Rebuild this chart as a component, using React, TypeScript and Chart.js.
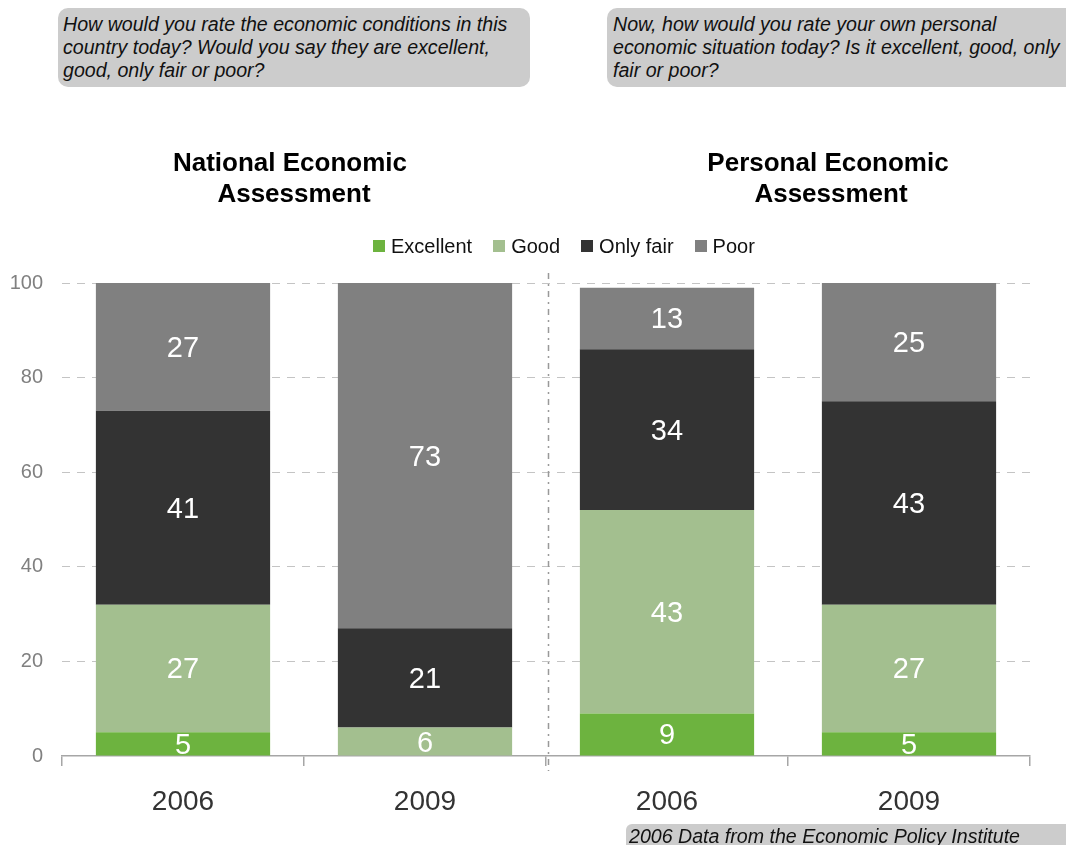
import React, { useEffect, useRef } from "react";
import { Chart, registerables } from "chart.js";

Chart.register(...registerables);

// ---- Data ----
const categories = ["2006", "2009", "2006", "2009"];
const excellent = [5, 0, 9, 5];
const good = [27, 6, 43, 27];
const onlyFair = [41, 21, 34, 43];
const poor = [27, 73, 13, 25];
const seriesNames = ["Excellent", "Good", "Only fair", "Poor"];
const seriesColors = ["#6DB33F", "#A3BF8F", "#333333", "#808080"];
const yTicks = [0, 20, 40, 60, 80, 100];
const groupTitles = [
  ["National Economic", "Assessment"],
  ["Personal Economic", "Assessment"],
];
const questionLines = [
  [
    "How would you rate the economic conditions in this",
    "country today? Would you say they are excellent,",
    "good, only fair or poor?",
  ],
  [
    "Now, how would you rate your own personal",
    "economic situation today? Is it excellent, good, only",
    "fair or poor?",
  ],
];
const footnote = "2006 Data from the Economic Policy Institute";

const FONT = '"Liberation Sans", Arial, Helvetica, sans-serif';

const segmentLabels = {
  id: "segmentLabels",
  afterDatasetsDraw(chart: any) {
    const ctx = chart.ctx;
    ctx.save();
    ctx.font = `29px ${FONT}`;
    ctx.fillStyle = "#ffffff";
    ctx.textAlign = "center";
    ctx.textBaseline = "middle";
    chart.data.datasets.forEach((ds: any, i: number) => {
      const meta = chart.getDatasetMeta(i);
      meta.data.forEach((el: any, j: number) => {
        const v = ds.data[j];
        if (!v) return;
        const p = el.getProps(["x", "y", "base"], true);
        ctx.fillText(String(v), p.x, (p.y + p.base) / 2 + 2);
      });
    });
    ctx.restore();
  },
};

const separator = {
  id: "separator",
  afterDatasetsDraw(chart: any) {
    const xs = chart.scales.x;
    const area = chart.chartArea;
    const x = Math.round((xs.getPixelForValue(1) + xs.getPixelForValue(2)) / 2) + 2.5;
    const ctx = chart.ctx;
    ctx.save();
    ctx.strokeStyle = "#999999";
    ctx.lineWidth = 1.5;
    ctx.setLineDash([6, 5, 2, 5]);
    ctx.beginPath();
    ctx.moveTo(x, area.top - 10);
    ctx.lineTo(x, area.bottom + 15);
    ctx.stroke();
    ctx.restore();
  },
};

export default function App() {
  const canvasRef = useRef<HTMLCanvasElement>(null);

  useEffect(() => {
    if (!canvasRef.current) return;
    const seriesValues = [excellent, good, onlyFair, poor];
    const chart = new Chart(canvasRef.current, {
      type: "bar",
      data: {
        labels: categories,
        datasets: seriesNames.map((name, i) => ({
          label: name,
          data: seriesValues[i],
          backgroundColor: seriesColors[i],
          borderWidth: 0,
          barPercentage: 0.72,
          categoryPercentage: 1,
        })),
      },
      options: {
        animation: false,
        responsive: false,
        maintainAspectRatio: false,
        layout: { padding: { top: 283, left: 0, right: 36, bottom: 0 } },
        plugins: {
          legend: { display: false },
          tooltip: { enabled: false },
          title: { display: false },
        },
        scales: {
          x: {
            stacked: true,
            grid: {
              offset: true,
              drawOnChartArea: false,
              drawTicks: true,
              tickLength: 10,
              color: "#a6a6a6",
              lineWidth: 1.5,
            },
            border: { display: true, color: "#a6a6a6", width: 1.5 },
            ticks: {
              color: "#333333",
              font: { size: 28, family: FONT },
              padding: 19,
            },
            afterFit: (s: any) => {
              s.height = 89;
            },
          },
          y: {
            stacked: true,
            min: 0,
            max: 100,
            afterBuildTicks: (s: any) => {
              s.ticks = yTicks.map((v) => ({ value: v }));
            },
            grid: {
              color: (c: any) => (c.tick && c.tick.value === 0 ? "rgba(0,0,0,0)" : "#c4c4c4"),
              drawTicks: false,
              lineWidth: 1,
            },
            border: { display: false, dash: [8, 7] },
            ticks: {
              color: "#808080",
              font: { size: 20, family: FONT },
              padding: 19,
            },
            afterFit: (s: any) => {
              s.width = 62;
            },
          },
        },
      },
      plugins: [segmentLabels, separator],
    });
    return () => chart.destroy();
  }, []);

  const boxText: React.CSSProperties = {
    position: "absolute",
    background: "#cccccc",
    fontFamily: FONT,
    fontStyle: "italic",
    fontSize: 19.6,
    lineHeight: "23px",
    color: "#111111",
    whiteSpace: "nowrap",
    boxSizing: "border-box",
  };

  const titleStyle: React.CSSProperties = {
    position: "absolute",
    width: 400,
    textAlign: "center",
    fontFamily: FONT,
    fontWeight: "bold",
    fontSize: 26,
    lineHeight: "31px",
    color: "#000000",
    whiteSpace: "nowrap",
  };

  return (
    <div
      style={{
        position: "absolute",
        left: 0,
        top: 0,
        width: 1066,
        height: 845,
        overflow: "hidden",
        background: "#ffffff",
      }}
    >
      <canvas
        ref={canvasRef}
        width={1066}
        height={845}
        style={{ position: "absolute", left: 0, top: 0, width: 1066, height: 845 }}
      />
      <div
        style={{
          ...boxText,
          left: 58,
          top: 8,
          width: 472,
          height: 79,
          borderRadius: 10,
          padding: "5px 0 0 5px",
        }}
      >
        {questionLines[0].map((l, i) => (
          <div key={i}>{l}</div>
        ))}
      </div>
      <div
        style={{
          ...boxText,
          left: 607,
          top: 8,
          width: 480,
          height: 79,
          borderRadius: 10,
          padding: "5px 0 0 6px",
        }}
      >
        {questionLines[1].map((l, i) => (
          <div key={i}>{l}</div>
        ))}
      </div>
      <div style={{ ...titleStyle, left: 290 - 200, top: 147 }}>
        {groupTitles[0].map((l, i) => (
          <div key={i} style={{ position: "relative", left: i === 1 ? 4 : 0 }}>
            {l}
          </div>
        ))}
      </div>
      <div style={{ ...titleStyle, left: 828 - 200, top: 147 }}>
        {groupTitles[1].map((l, i) => (
          <div key={i} style={{ position: "relative", left: i === 1 ? 3 : 0 }}>
            {l}
          </div>
        ))}
      </div>
      <div
        style={{
          position: "absolute",
          left: 373,
          top: 234,
          height: 24,
          display: "flex",
          alignItems: "center",
          fontFamily: FONT,
          fontSize: 20,
          color: "#111111",
          whiteSpace: "nowrap",
        }}
      >
        {seriesNames.map((n, i) => (
          <div key={i} style={{ display: "flex", alignItems: "center", marginRight: 21 }}>
            <span
              style={{
                display: "inline-block",
                width: 12,
                height: 12,
                background: seriesColors[i],
                marginRight: 6,
              }}
            />
            <span>{n}</span>
          </div>
        ))}
      </div>
      <div
        style={{
          ...boxText,
          left: 626,
          top: 824,
          width: 460,
          height: 30,
          borderRadius: "6px 0 0 0",
          lineHeight: "22px",
          padding: "1px 0 0 3px",
        }}
      >
        {footnote}
      </div>
    </div>
  );
}
